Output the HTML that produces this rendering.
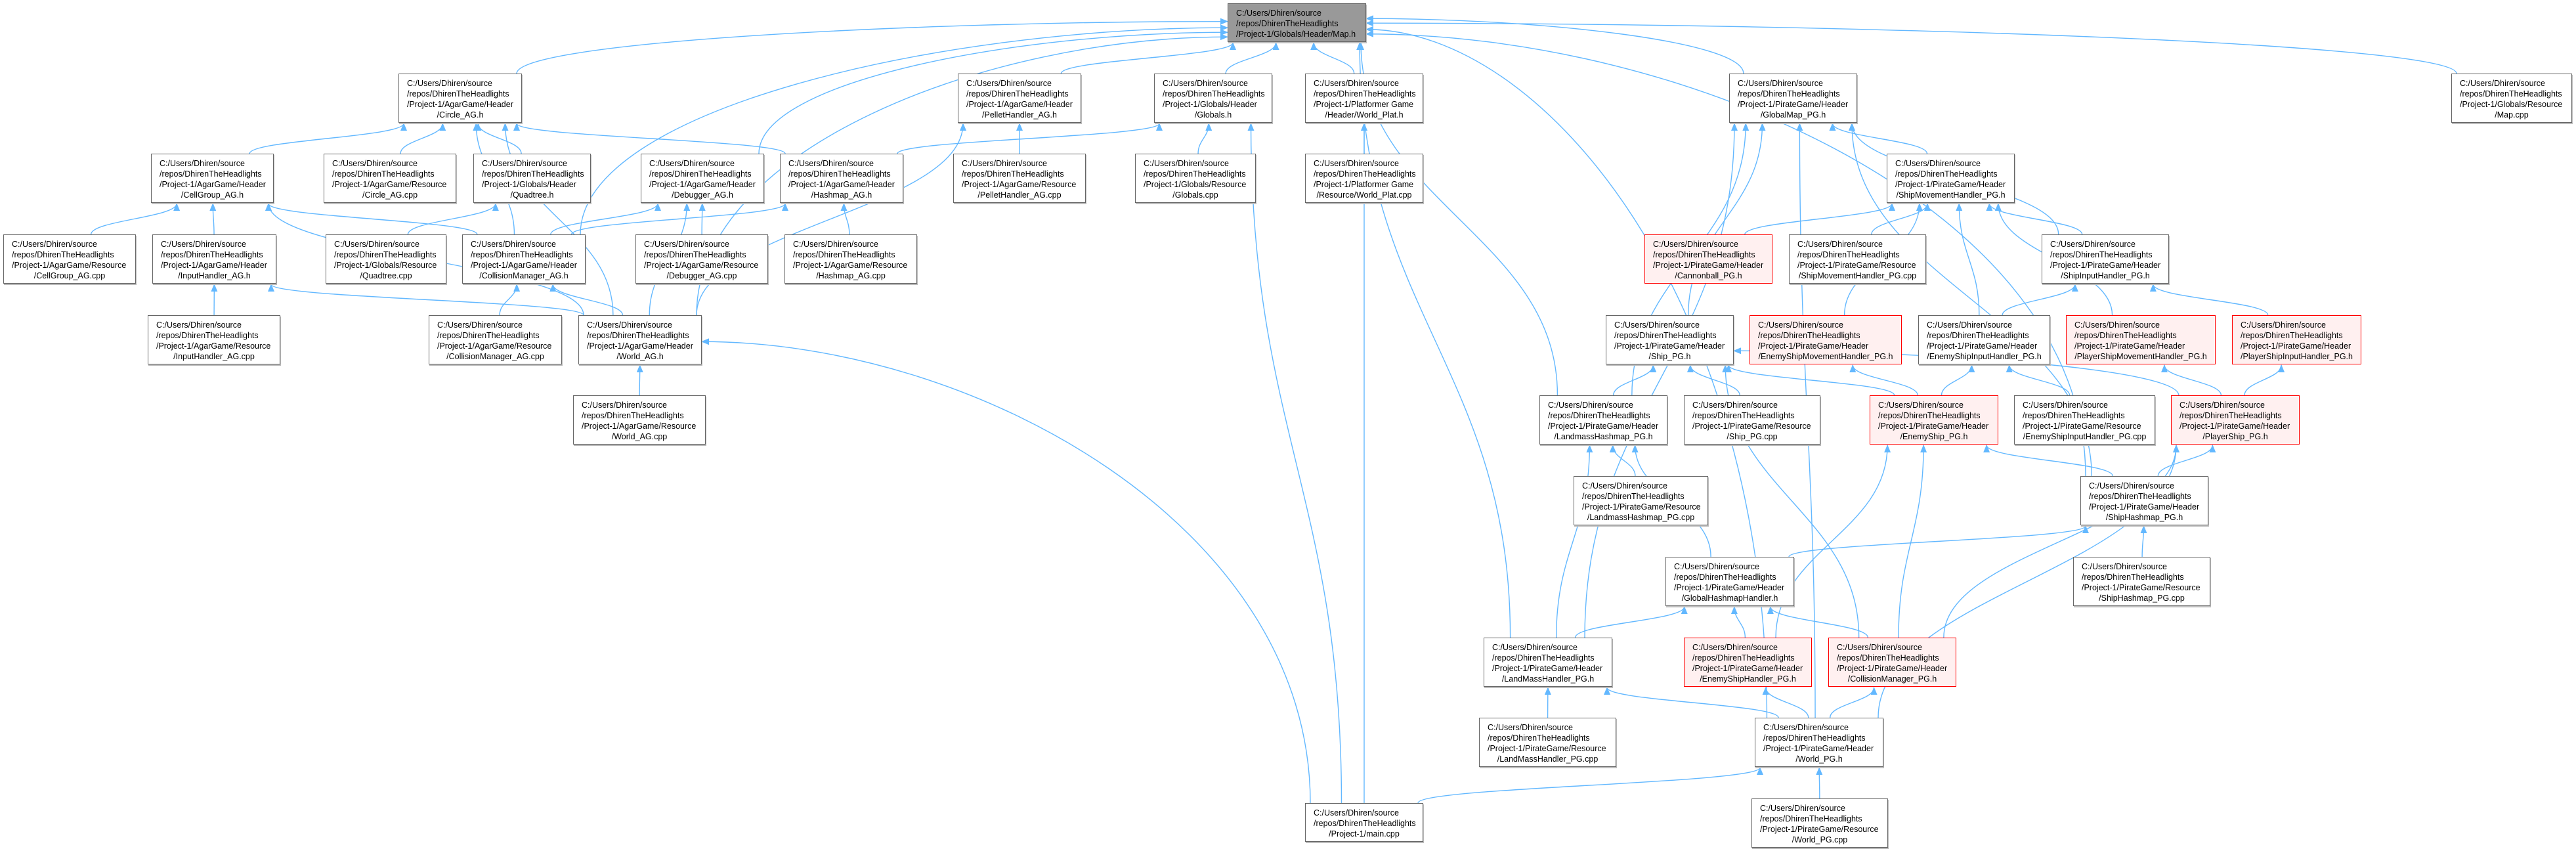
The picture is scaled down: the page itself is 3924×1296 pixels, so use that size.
<!DOCTYPE html>
<html><head><meta charset="utf-8">
<style>
html,body{margin:0;padding:0;background:#fff;}
#wrap{position:relative;width:3924px;height:1296px;overflow:hidden;background:#fff;}
.n{position:absolute;box-sizing:border-box;border:1px solid #666;background:#fff;font-family:"Liberation Sans",sans-serif;font-size:12.5px;line-height:16px;color:#000;padding:6px 0 0 12px;white-space:nowrap;box-shadow:1px 2px 0 #bbb;}
.n span{display:block;}
.n span.c{text-align:center;padding-right:12px;}
.r{border:1.5px solid #ff0000;background:#fff0f0;box-shadow:none;}
.g{background:#999;}
svg{position:absolute;left:0;top:0;}
</style></head><body><div id="wrap">
<svg id="edges" width="3924" height="1296"><defs><marker id="ah" markerUnits="userSpaceOnUse" markerWidth="12" markerHeight="10" refX="11" refY="5" orient="auto"><path d="M0,0 L12,5 L0,10 z" fill="#63b8ff"/></marker></defs></svg>

<div class="n g" id="map" style="left:1870px;top:5px;width:211px;height:59px"><span>C:/Users/Dhiren/source</span><span>/repos/DhirenTheHeadlights</span><span>/Project-1/Globals/Header/Map.h</span></div>

<div class="n" id="circle" style="left:607px;top:112px;width:188px;height:75px"><span>C:/Users/Dhiren/source</span><span>/repos/DhirenTheHeadlights</span><span>/Project-1/AgarGame/Header</span><span class="c">/Circle_AG.h</span></div>
<div class="n" id="pellet" style="left:1459px;top:112px;width:188px;height:75px"><span>C:/Users/Dhiren/source</span><span>/repos/DhirenTheHeadlights</span><span>/Project-1/AgarGame/Header</span><span class="c">/PelletHandler_AG.h</span></div>
<div class="n" id="globals" style="left:1758px;top:112px;width:180px;height:75px"><span>C:/Users/Dhiren/source</span><span>/repos/DhirenTheHeadlights</span><span>/Project-1/Globals/Header</span><span class="c">/Globals.h</span></div>
<div class="n" id="worldplat" style="left:1988px;top:112px;width:180px;height:75px"><span>C:/Users/Dhiren/source</span><span>/repos/DhirenTheHeadlights</span><span>/Project-1/Platformer Game</span><span class="c">/Header/World_Plat.h</span></div>
<div class="n" id="globalmap" style="left:2634px;top:112px;width:195px;height:75px"><span>C:/Users/Dhiren/source</span><span>/repos/DhirenTheHeadlights</span><span>/Project-1/PirateGame/Header</span><span class="c">/GlobalMap_PG.h</span></div>
<div class="n" id="mapcpp" style="left:3734px;top:112px;width:184px;height:75px"><span>C:/Users/Dhiren/source</span><span>/repos/DhirenTheHeadlights</span><span>/Project-1/Globals/Resource</span><span class="c">/Map.cpp</span></div>

<div class="n" id="cellgroup" style="left:230px;top:234px;width:187px;height:75px"><span>C:/Users/Dhiren/source</span><span>/repos/DhirenTheHeadlights</span><span>/Project-1/AgarGame/Header</span><span class="c">/CellGroup_AG.h</span></div>
<div class="n" id="circlecpp" style="left:493px;top:234px;width:202px;height:75px"><span>C:/Users/Dhiren/source</span><span>/repos/DhirenTheHeadlights</span><span>/Project-1/AgarGame/Resource</span><span class="c">/Circle_AG.cpp</span></div>
<div class="n" id="quadtree" style="left:721px;top:234px;width:179px;height:75px"><span>C:/Users/Dhiren/source</span><span>/repos/DhirenTheHeadlights</span><span>/Project-1/Globals/Header</span><span class="c">/Quadtree.h</span></div>
<div class="n" id="debugger" style="left:976px;top:234px;width:188px;height:75px"><span>C:/Users/Dhiren/source</span><span>/repos/DhirenTheHeadlights</span><span>/Project-1/AgarGame/Header</span><span class="c">/Debugger_AG.h</span></div>
<div class="n" id="hashmap" style="left:1188px;top:234px;width:188px;height:75px"><span>C:/Users/Dhiren/source</span><span>/repos/DhirenTheHeadlights</span><span>/Project-1/AgarGame/Header</span><span class="c">/Hashmap_AG.h</span></div>
<div class="n" id="pelletcpp" style="left:1452px;top:234px;width:202px;height:75px"><span>C:/Users/Dhiren/source</span><span>/repos/DhirenTheHeadlights</span><span>/Project-1/AgarGame/Resource</span><span class="c">/PelletHandler_AG.cpp</span></div>
<div class="n" id="globalscpp" style="left:1729px;top:234px;width:184px;height:75px"><span>C:/Users/Dhiren/source</span><span>/repos/DhirenTheHeadlights</span><span>/Project-1/Globals/Resource</span><span class="c">/Globals.cpp</span></div>
<div class="n" id="worldplatcpp" style="left:1988px;top:234px;width:180px;height:75px"><span>C:/Users/Dhiren/source</span><span>/repos/DhirenTheHeadlights</span><span>/Project-1/Platformer Game</span><span class="c">/Resource/World_Plat.cpp</span></div>
<div class="n" id="shipmove" style="left:2874px;top:234px;width:195px;height:75px"><span>C:/Users/Dhiren/source</span><span>/repos/DhirenTheHeadlights</span><span>/Project-1/PirateGame/Header</span><span class="c">/ShipMovementHandler_PG.h</span></div>

<div class="n" id="cellgroupcpp" style="left:5px;top:357px;width:202px;height:75px"><span>C:/Users/Dhiren/source</span><span>/repos/DhirenTheHeadlights</span><span>/Project-1/AgarGame/Resource</span><span class="c">/CellGroup_AG.cpp</span></div>
<div class="n" id="inputag" style="left:232px;top:357px;width:189px;height:75px"><span>C:/Users/Dhiren/source</span><span>/repos/DhirenTheHeadlights</span><span>/Project-1/AgarGame/Header</span><span class="c">/InputHandler_AG.h</span></div>
<div class="n" id="quadtreecpp" style="left:496px;top:357px;width:184px;height:75px"><span>C:/Users/Dhiren/source</span><span>/repos/DhirenTheHeadlights</span><span>/Project-1/Globals/Resource</span><span class="c">/Quadtree.cpp</span></div>
<div class="n" id="collag" style="left:704px;top:357px;width:188px;height:75px"><span>C:/Users/Dhiren/source</span><span>/repos/DhirenTheHeadlights</span><span>/Project-1/AgarGame/Header</span><span class="c">/CollisionManager_AG.h</span></div>
<div class="n" id="debuggercpp" style="left:968px;top:357px;width:202px;height:75px"><span>C:/Users/Dhiren/source</span><span>/repos/DhirenTheHeadlights</span><span>/Project-1/AgarGame/Resource</span><span class="c">/Debugger_AG.cpp</span></div>
<div class="n" id="hashmapcpp" style="left:1195px;top:357px;width:202px;height:75px"><span>C:/Users/Dhiren/source</span><span>/repos/DhirenTheHeadlights</span><span>/Project-1/AgarGame/Resource</span><span class="c">/Hashmap_AG.cpp</span></div>
<div class="n r" id="cannonball" style="left:2505px;top:357px;width:195px;height:75px"><span>C:/Users/Dhiren/source</span><span>/repos/DhirenTheHeadlights</span><span>/Project-1/PirateGame/Header</span><span class="c">/Cannonball_PG.h</span></div>
<div class="n" id="shipmovecpp" style="left:2725px;top:357px;width:209px;height:75px"><span>C:/Users/Dhiren/source</span><span>/repos/DhirenTheHeadlights</span><span>/Project-1/PirateGame/Resource</span><span class="c">/ShipMovementHandler_PG.cpp</span></div>
<div class="n" id="shipinput" style="left:3110px;top:357px;width:194px;height:75px"><span>C:/Users/Dhiren/source</span><span>/repos/DhirenTheHeadlights</span><span>/Project-1/PirateGame/Header</span><span class="c">/ShipInputHandler_PG.h</span></div>

<div class="n" id="inputagcpp" style="left:225px;top:480px;width:202px;height:75px"><span>C:/Users/Dhiren/source</span><span>/repos/DhirenTheHeadlights</span><span>/Project-1/AgarGame/Resource</span><span class="c">/InputHandler_AG.cpp</span></div>
<div class="n" id="collagcpp" style="left:653px;top:480px;width:203px;height:75px"><span>C:/Users/Dhiren/source</span><span>/repos/DhirenTheHeadlights</span><span>/Project-1/AgarGame/Resource</span><span class="c">/CollisionManager_AG.cpp</span></div>
<div class="n" id="worldag" style="left:881px;top:480px;width:188px;height:75px"><span>C:/Users/Dhiren/source</span><span>/repos/DhirenTheHeadlights</span><span>/Project-1/AgarGame/Header</span><span class="c">/World_AG.h</span></div>
<div class="n" id="ship" style="left:2446px;top:480px;width:195px;height:75px"><span>C:/Users/Dhiren/source</span><span>/repos/DhirenTheHeadlights</span><span>/Project-1/PirateGame/Header</span><span class="c">/Ship_PG.h</span></div>
<div class="n r" id="enemymove" style="left:2665px;top:480px;width:232px;height:75px"><span>C:/Users/Dhiren/source</span><span>/repos/DhirenTheHeadlights</span><span>/Project-1/PirateGame/Header</span><span class="c">/EnemyShipMovementHandler_PG.h</span></div>
<div class="n" id="enemyinput" style="left:2922px;top:480px;width:201px;height:75px"><span>C:/Users/Dhiren/source</span><span>/repos/DhirenTheHeadlights</span><span>/Project-1/PirateGame/Header</span><span class="c">/EnemyShipInputHandler_PG.h</span></div>
<div class="n r" id="playermove" style="left:3147px;top:480px;width:228px;height:75px"><span>C:/Users/Dhiren/source</span><span>/repos/DhirenTheHeadlights</span><span>/Project-1/PirateGame/Header</span><span class="c">/PlayerShipMovementHandler_PG.h</span></div>
<div class="n r" id="playerinput" style="left:3400px;top:480px;width:197px;height:75px"><span>C:/Users/Dhiren/source</span><span>/repos/DhirenTheHeadlights</span><span>/Project-1/PirateGame/Header</span><span class="c">/PlayerShipInputHandler_PG.h</span></div>

<div class="n" id="worldagcpp" style="left:873px;top:602px;width:202px;height:75px"><span>C:/Users/Dhiren/source</span><span>/repos/DhirenTheHeadlights</span><span>/Project-1/AgarGame/Resource</span><span class="c">/World_AG.cpp</span></div>
<div class="n" id="landhash" style="left:2345px;top:602px;width:195px;height:75px"><span>C:/Users/Dhiren/source</span><span>/repos/DhirenTheHeadlights</span><span>/Project-1/PirateGame/Header</span><span class="c">/LandmassHashmap_PG.h</span></div>
<div class="n" id="shipcpp" style="left:2565px;top:602px;width:208px;height:75px"><span>C:/Users/Dhiren/source</span><span>/repos/DhirenTheHeadlights</span><span>/Project-1/PirateGame/Resource</span><span class="c">/Ship_PG.cpp</span></div>
<div class="n r" id="enemyship" style="left:2848px;top:602px;width:196px;height:75px"><span>C:/Users/Dhiren/source</span><span>/repos/DhirenTheHeadlights</span><span>/Project-1/PirateGame/Header</span><span class="c">/EnemyShip_PG.h</span></div>
<div class="n" id="enemyinputcpp" style="left:3068px;top:602px;width:215px;height:75px"><span>C:/Users/Dhiren/source</span><span>/repos/DhirenTheHeadlights</span><span>/Project-1/PirateGame/Resource</span><span class="c">/EnemyShipInputHandler_PG.cpp</span></div>
<div class="n r" id="playership" style="left:3307px;top:602px;width:196px;height:75px"><span>C:/Users/Dhiren/source</span><span>/repos/DhirenTheHeadlights</span><span>/Project-1/PirateGame/Header</span><span class="c">/PlayerShip_PG.h</span></div>

<div class="n" id="landhashcpp" style="left:2397px;top:725px;width:205px;height:75px"><span>C:/Users/Dhiren/source</span><span>/repos/DhirenTheHeadlights</span><span>/Project-1/PirateGame/Resource</span><span class="c">/LandmassHashmap_PG.cpp</span></div>
<div class="n" id="shiphash" style="left:3169px;top:725px;width:195px;height:75px"><span>C:/Users/Dhiren/source</span><span>/repos/DhirenTheHeadlights</span><span>/Project-1/PirateGame/Header</span><span class="c">/ShipHashmap_PG.h</span></div>

<div class="n" id="globalhash" style="left:2537px;top:848px;width:196px;height:75px"><span>C:/Users/Dhiren/source</span><span>/repos/DhirenTheHeadlights</span><span>/Project-1/PirateGame/Header</span><span class="c">/GlobalHashmapHandler.h</span></div>
<div class="n" id="shiphashcpp" style="left:3158px;top:848px;width:209px;height:75px"><span>C:/Users/Dhiren/source</span><span>/repos/DhirenTheHeadlights</span><span>/Project-1/PirateGame/Resource</span><span class="c">/ShipHashmap_PG.cpp</span></div>

<div class="n" id="landmass" style="left:2260px;top:971px;width:196px;height:75px"><span>C:/Users/Dhiren/source</span><span>/repos/DhirenTheHeadlights</span><span>/Project-1/PirateGame/Header</span><span class="c">/LandMassHandler_PG.h</span></div>
<div class="n r" id="enemyhandler" style="left:2565px;top:971px;width:195px;height:75px"><span>C:/Users/Dhiren/source</span><span>/repos/DhirenTheHeadlights</span><span>/Project-1/PirateGame/Header</span><span class="c">/EnemyShipHandler_PG.h</span></div>
<div class="n r" id="collpg" style="left:2785px;top:971px;width:195px;height:75px"><span>C:/Users/Dhiren/source</span><span>/repos/DhirenTheHeadlights</span><span>/Project-1/PirateGame/Header</span><span class="c">/CollisionManager_PG.h</span></div>

<div class="n" id="landmasscpp" style="left:2253px;top:1093px;width:209px;height:75px"><span>C:/Users/Dhiren/source</span><span>/repos/DhirenTheHeadlights</span><span>/Project-1/PirateGame/Resource</span><span class="c">/LandMassHandler_PG.cpp</span></div>
<div class="n" id="worldpg" style="left:2673px;top:1093px;width:196px;height:75px"><span>C:/Users/Dhiren/source</span><span>/repos/DhirenTheHeadlights</span><span>/Project-1/PirateGame/Header</span><span class="c">/World_PG.h</span></div>

<div class="n" id="main" style="left:1988px;top:1223px;width:180px;height:59px"><span>C:/Users/Dhiren/source</span><span>/repos/DhirenTheHeadlights</span><span class="c">/Project-1/main.cpp</span></div>
<div class="n" id="worldpgcpp" style="left:2668px;top:1216px;width:208px;height:75px"><span>C:/Users/Dhiren/source</span><span>/repos/DhirenTheHeadlights</span><span>/Project-1/PirateGame/Resource</span><span class="c">/World_PG.cpp</span></div>
</div>
<script>
(function(){
var svg=document.getElementById('edges');
function box(id){var e=document.getElementById(id);return {x:e.offsetLeft,y:e.offsetTop,w:e.offsetWidth,h:e.offsetHeight};}
var E=[
['circle','map'],['pellet','map'],['globals','map'],['worldplat','map'],['globalmap','map'],['mapcpp','map'],
['collag','map'],['debugger','map'],['worldag','map'],['landmass','map'],['landhash','map'],['worldpg','map'],['shiphash','map'],
['cellgroup','circle'],['circlecpp','circle'],['quadtree','circle'],['collag','circle'],['worldag','circle'],['hashmap','circle'],
['cellgroupcpp','cellgroup'],['inputag','cellgroup'],['collag','cellgroup'],['worldag','cellgroup'],
['quadtreecpp','quadtree'],['inputagcpp','inputag'],['worldag','inputag'],
['collagcpp','collag'],['worldag','collag'],
['debuggercpp','debugger'],['collag','debugger'],['worldag','debugger'],
['hashmapcpp','hashmap'],['collag','hashmap'],['hashmap','globals'],
['worldagcpp','worldag'],['main','worldag'],['worldag','pellet'],['pelletcpp','pellet'],
['globalscpp','globals'],['main','globals'],['worldplatcpp','worldplat'],['main','worldplat'],['main','worldpg'],
['shipmove','globalmap'],['ship','globalmap'],['shipinput','globalmap'],['shiphash','globalmap'],['landmass','globalmap'],['landhash','globalmap'],['worldpg','globalmap'],
['cannonball','shipmove'],['shipmovecpp','shipmove'],['enemymove','shipmove'],['enemyinput','shipmove'],['playermove','shipmove'],['shipinput','shipmove'],
['enemyinput','shipinput'],['playerinput','shipinput'],
['landhash','ship'],['shipcpp','ship'],['enemyship','ship'],['playership','ship'],['collpg','ship'],
['enemyship','enemymove'],['enemyship','enemyinput'],['enemyinputcpp','enemyinput'],
['playership','playermove'],['playership','playerinput'],
['enemyhandler','enemyship'],['collpg','enemyship'],['shiphash','enemyship'],
['collpg','playership'],['shiphash','playership'],['worldpg','playership'],
['shiphashcpp','shiphash'],['globalhash','shiphash'],
['enemyhandler','globalhash'],['collpg','globalhash'],['landmass','globalhash'],
['landhashcpp','landhash'],['globalhash','landhash'],['landmass','landhash'],
['landmasscpp','landmass'],['worldpg','landmass'],
['worldpg','enemyhandler'],['worldpg','collpg'],['worldpgcpp','worldpg']
];
var cnt={};
function clamp(v,a,b){return Math.max(a,Math.min(b,v));}
var d='';
E.forEach(function(e){
 var s=box(e[0]),t=box(e[1]);
 var scx=s.x+s.w/2,tcx=t.x+t.w/2;
 var sx,sy,tx,ty,c1x,c1y,c2x,c2y;
 var k=e[1];cnt[k]=(cnt[k]||0)+1;
 if(Math.abs(scx-tcx)>700 && t.y+t.h<s.y){
   // enter side of target
   var right=scx>tcx;
   tx=right?t.x+t.w:t.x;
   ty=t.y+t.h*0.35+((cnt[k]*7)%(t.h*0.55));
   sx=scx+clamp((tcx-scx)*0.1,-s.w/2+8,s.w/2-8);sy=s.y;
   c1x=sx;c1y=sy-(sy-ty)*0.6;
   c2x=tx+(right?1:-1)*Math.abs(sx-tx)*0.45;c2y=ty;
 } else {
   sx=scx+clamp((tcx-scx)*0.15,-s.w/2+8,s.w/2-8);sy=s.y;
   tx=tcx+clamp((scx-tcx)*0.25,-t.w/2+8,t.w/2-8);ty=t.y+t.h+1;
   var dd=(sy-ty)*0.45;
   c1x=sx;c1y=sy-dd;c2x=tx;c2y=ty+dd;
 }
 d+='<path d="M'+sx+','+sy+' C'+c1x+','+c1y+' '+c2x+','+c2y+' '+tx+','+ty+'" fill="none" stroke="#63b8ff" stroke-width="1.4" marker-end="url(#ah)"/>';
});
svg.insertAdjacentHTML('beforeend',d);
})();
</script>
</body></html>
